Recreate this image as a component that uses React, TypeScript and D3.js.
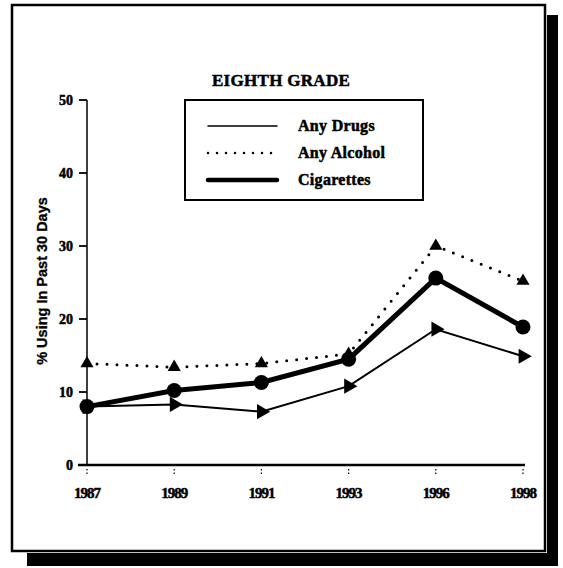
import React from 'react';
import * as d3 from 'd3';

const years = ['1987', '1989', '1991', '1993', '1996', '1998'];
const anyDrugs = [8.0, 8.3, 7.3, 10.8, 18.6, 14.9];
const anyAlcohol = [13.9, 13.4, 13.9, 15.2, 30.0, 25.2];
const cigarettes = [8.0, 10.2, 11.3, 14.5, 25.6, 18.9];
const yTicks = [0, 10, 20, 30, 40, 50];
const legendNames = ['Any Drugs', 'Any Alcohol', 'Cigarettes'];

const W = 563;
const H = 568;
const serif = '"Liberation Serif", "DejaVu Serif", serif';
// scanned print looks heavy, so texts get a thin outline
const heavy = { stroke: '#000', strokeWidth: 0.5 };

const App = () => {
  const x = d3.scalePoint<string>().domain(years).range([87, 523]);
  const y = d3.scaleLinear().domain([0, 50]).range([465, 100]);
  const line = d3.line<number>().x((_, i) => x(years[i]) as number).y((d) => y(d));

  const tri = d3.symbol().type(d3.symbolTriangle).size(75)() as string;
  const triRight = d3.symbol().type(d3.symbolTriangle).size(100)() as string;

  const legendY = [126, 153, 180];

  return (
    <svg width={W} height={H} style={{ position: 'absolute', left: 0, top: 0, background: '#fff' }}>
      {/* frame + shadow */}
      <rect x={27} y={553} width={531} height={13} fill="#000" />
      <rect x={547} y={15} width={11} height={551} fill="#000" />
      <rect x={12} y={5} width={533} height={546} fill="#fff" stroke="#000" strokeWidth={2.5} />

      {/* title */}
      <text x={281} y={86} textAnchor="middle" fontFamily={serif} fontWeight="bold" fontSize={17} letterSpacing={0.3} {...heavy}>
        EIGHTH GRADE
      </text>

      {/* legend */}
      <rect x={185} y={100} width={238} height={100} fill="none" stroke="#000" strokeWidth={2} />
      {legendNames.map((n, i) => (
        <g key={n}>
          <line
            x1={208}
            x2={277}
            y1={legendY[i]}
            y2={legendY[i]}
            stroke="#000"
            strokeWidth={i === 0 ? 1.5 : i === 1 ? 2.5 : 4.5}
            strokeDasharray={i === 1 ? '0 9' : undefined}
            strokeLinecap="round"
          />
          <text x={298} y={legendY[i] + 5} fontFamily={serif} fontWeight="bold" fontSize={16} letterSpacing={0.3} {...heavy}>
            {n}
          </text>
        </g>
      ))}

      {/* axes */}
      <line x1={x('1987')} x2={x('1987')} y1={y(50)} y2={y(0)} stroke="#000" strokeWidth={1.5} />
      {yTicks.map((t) => (
        <g key={t}>
          <line x1={79} x2={87} y1={y(t)} y2={y(t)} stroke="#000" strokeWidth={1.8} />
          <text x={73} y={y(t) + 5} textAnchor="end" fontFamily={serif} fontWeight="bold" fontSize={14} {...heavy}>
            {t}
          </text>
        </g>
      ))}
      <line x1={78} x2={525} y1={y(0)} y2={y(0)} stroke="#000" strokeWidth={2.5} />
      {years.map((yr) => (
        <g key={yr}>
          <line x1={x(yr)} x2={x(yr)} y1={y(0) + 4} y2={y(0) + 9} stroke="#000" strokeWidth={1.2} strokeDasharray="1.5 2" />
          <text x={x(yr)} y={498} textAnchor="middle" fontFamily={serif} fontWeight="bold" fontSize={15} letterSpacing={-1} {...heavy}>
            {yr}
          </text>
        </g>
      ))}
      <text
        transform="translate(47,281) rotate(-90)"
        textAnchor="middle"
        fontFamily='"Liberation Sans", Arial, sans-serif'
        fontWeight="bold"
        fontSize={14.5}
        stroke="#000"
        strokeWidth={0.3}
      >
        % Using In Past 30 Days
      </text>

      {/* series */}
      <path d={line(anyAlcohol) as string} fill="none" stroke="#000" strokeWidth={3} strokeDasharray="0 10" strokeLinecap="round" />
      {anyAlcohol.map((v, i) => (
        <path key={i} d={tri} transform={`translate(${x(years[i])},${y(v)})`} fill="#000" />
      ))}

      <path d={line(anyDrugs) as string} fill="none" stroke="#000" strokeWidth={2} />
      {anyDrugs.map((v, i) => (
        <path key={i} d={triRight} transform={`translate(${x(years[i])},${y(v)}) rotate(90)`} fill="#000" />
      ))}

      <path d={line(cigarettes) as string} fill="none" stroke="#000" strokeWidth={5} />
      {cigarettes.map((v, i) => (
        <circle key={i} cx={x(years[i])} cy={y(v)} r={7.5} fill="#000" />
      ))}
    </svg>
  );
};

export default App;
